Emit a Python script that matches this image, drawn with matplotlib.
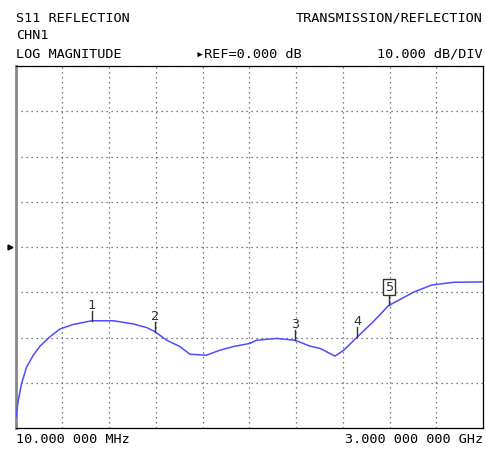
import numpy as np
import matplotlib
matplotlib.use("Agg")
import matplotlib.pyplot as plt

# S11 trace (MHz, dB)
freq_mhz = [12, 27, 48, 80, 123, 166, 230, 294, 379, 496, 635, 762, 848, 901,
            976, 1061, 1125, 1232, 1317, 1402, 1509, 1552, 1680, 1797, 1893,
            1957, 2053, 2106, 2192, 2298, 2394, 2554, 2672, 2810, 3000]
s11_db = [-37.5, -33.8, -30.1, -26.5, -23.9, -21.9, -19.8, -18.1, -17.1, -16.3,
          -16.3, -17.0, -17.8, -18.7, -20.6, -22.0, -23.7, -23.9, -22.8, -22.0,
          -21.3, -20.6, -20.2, -20.6, -21.9, -22.4, -24.1, -22.9, -20.0, -16.5,
          -13.0, -10.0, -8.4, -7.8, -7.7]

marker_ids = ["1", "2", "3", "4", "5"]
marker_freq = [498, 901, 1797, 2194, 2399]
active_marker = "5"

header_left = ["S11 REFLECTION", "CHN1", "LOG MAGNITUDE"]
header_right = "TRANSMISSION/REFLECTION"
ref_text = "\u25b8REF=0.000 dB"
scale_text = "10.000 dB/DIV"
start_text = "10.000 000 MHz"
stop_text = "3.000 000 000 GHz"

f_start, f_stop = 10, 3000
ref_db, db_div = 0.0, 10.0

mono = ["DejaVu Sans Mono"]
fs = 9.7

fig = plt.figure(figsize=(4.86, 4.55), dpi=100)
ax = fig.add_axes([0.0323, 0.0593, 0.9615, 0.7956])

ax.plot(freq_mhz, s11_db, color="#4d4dff", lw=1.1, zorder=3)

ax.set_xlim(f_start, f_stop)
ax.set_ylim(ref_db - 4 * db_div, ref_db + 4 * db_div)
ax.set_xticks(np.linspace(f_start, f_stop, 11))
ax.set_yticks(np.arange(-40, 41, db_div))
ax.tick_params(length=0, labelbottom=False, labelleft=False)
ax.grid(True, color="#555555", linestyle=(0, (1, 3)), lw=0.9)
for side in ["top", "right", "bottom"]:
    ax.spines[side].set_color("black")
    ax.spines[side].set_linewidth(0.9)
ax.spines["left"].set_color("#888888")
ax.spines["left"].set_linewidth(2)

# markers
mk_db = np.interp(marker_freq, freq_mhz, s11_db)
for mid, mf, md in zip(marker_ids, marker_freq, mk_db):
    ax.plot([mf, mf], [md, md + 2.2], color="#333333", lw=1, zorder=4)
    if mid == active_marker:
        ax.text(mf, md + 2.6, mid, ha="center", va="bottom", fontsize=fs,
                family=mono, color="#333333", zorder=5,
                bbox=dict(boxstyle="square,pad=0.12", fc="white", ec="#333333", lw=1))
    else:
        ax.text(mf, md + 2.0, mid, ha="center", va="bottom", fontsize=fs,
                family=mono, color="#333333", zorder=5)

# reference level pointer
ax.plot([-0.013], [0.5], marker=">", ms=3.5, color="black",
        transform=ax.transAxes, clip_on=False)

# screen annotations
ys = [0.960, 0.923, 0.881]
for t, y in zip(header_left, ys):
    fig.text(0.0323, y, t, fontsize=fs, family=mono, va="center", ha="left")
fig.text(0.9938, 0.960, header_right, fontsize=fs, family=mono, va="center", ha="right")
fig.text(0.403, 0.881, ref_text, fontsize=fs, family=mono, va="center", ha="left")
fig.text(0.9938, 0.881, scale_text, fontsize=fs, family=mono, va="center", ha="right")
fig.text(0.0323, 0.033, start_text, fontsize=fs, family=mono, va="center", ha="left")
fig.text(0.9938, 0.033, stop_text, fontsize=fs, family=mono, va="center", ha="right")

fig.savefig("out.png", dpi=100)
